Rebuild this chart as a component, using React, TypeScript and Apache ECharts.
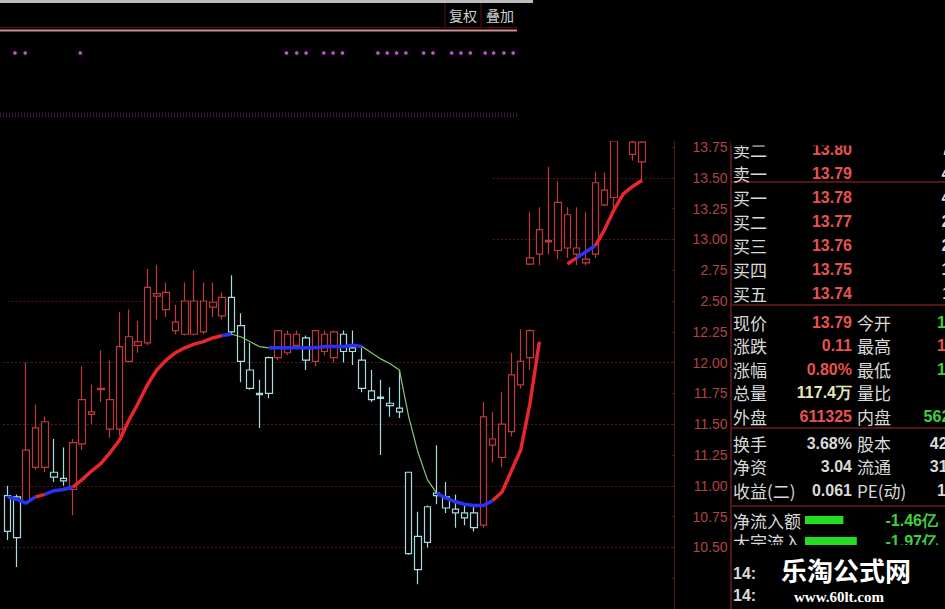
import React, { useEffect, useRef } from 'react';
import * as echarts from 'echarts';

// ---------- data ----------
const categoryCount = 72;
const xCats = Array.from({ length: categoryCount }, (_, i) => String(i));

// main K-line: [open, close, low, high], index 0..56
const mainCandles: number[][] = [
  [10.92, 10.63, 10.56, 11.0], [10.91, 10.58, 10.34, 10.93], [10.87, 11.29, 10.85, 12.0], [11.15, 11.47, 11.13, 11.66],
  [11.15, 11.52, 11.11, 11.56], [11.11, 11.07, 11.03, 11.38], [11.06, 11.04, 11.0, 11.31], [10.97, 11.35, 10.76, 11.38],
  [11.34, 11.7, 11.29, 11.97], [11.58, 11.6, 11.5, 11.82], [11.78, 11.79, 11.68, 12.1], [11.46, 11.7, 11.39, 12.02],
  [11.46, 12.13, 11.41, 12.41], [12.01, 12.21, 12.0, 12.43], [12.14, 12.17, 12.08, 12.34], [12.16, 12.61, 12.14, 12.76],
  [12.54, 12.56, 12.35, 12.79], [12.43, 12.57, 12.37, 12.65], [12.26, 12.33, 12.23, 12.47], [12.23, 12.5, 12.22, 12.65],
  [12.23, 12.5, 12.22, 12.75], [12.25, 12.5, 12.23, 12.65], [12.45, 12.49, 12.37, 12.65], [12.38, 12.53, 12.35, 12.57],
  [12.53, 12.25, 12.23, 12.71], [12.3, 12.01, 11.84, 12.4], [11.94, 11.79, 11.78, 12.16], [11.75, 11.74, 11.47, 11.86],
  [12.04, 11.75, 11.71, 12.05], [12.04, 12.26, 12.02, 12.26], [12.08, 12.23, 12.06, 12.26], [12.14, 12.23, 12.12, 12.26],
  [12.2, 12.02, 11.94, 12.22], [12.01, 12.26, 11.97, 12.26], [12.09, 12.23, 12.06, 12.26], [12.04, 12.25, 12.0, 12.26],
  [12.23, 12.09, 12.0, 12.26], [12.12, 12.09, 11.98, 12.26], [12.02, 11.79, 11.76, 12.14], [11.77, 11.7, 11.68, 11.94],
  [11.72, 11.71, 11.25, 11.86], [11.67, 11.65, 11.56, 11.8], [11.63, 11.6, 11.55, 11.94], [11.11, 10.45, 10.44, 11.11],
  [10.59, 10.32, 10.2, 10.79], [10.83, 10.54, 10.5, 10.84], [10.94, 10.92, 10.85, 11.33], [10.91, 10.82, 10.78, 11.03],
  [10.81, 10.78, 10.66, 10.93], [10.78, 10.74, 10.68, 10.85], [10.78, 10.66, 10.63, 10.83], [10.68, 11.56, 10.66, 11.68],
  [11.33, 11.38, 11.19, 11.6], [11.23, 11.5, 11.15, 11.76], [11.44, 11.9, 11.4, 12.08], [11.82, 12.01, 11.79, 12.27],
  [12.04, 12.26, 11.94, 12.27],
];

// pasted upper piece: [index, open, close, low, high]
const overlayCandles: number[][] = [
  [56, 12.8, 12.85, 12.79, 13.22], [57, 12.88, 13.08, 12.79, 13.26], [58, 12.98, 12.99, 12.88, 13.59],
  [59, 12.91, 13.3, 12.84, 13.47], [60, 12.93, 13.2, 12.85, 13.26], [61, 12.88, 12.93, 12.79, 13.26],
  [62, 12.81, 12.84, 12.79, 13.22], [63, 12.88, 13.46, 12.85, 13.55], [64, 13.28, 13.4, 13.27, 13.54],
  [65, 13.34, 13.8, 13.26, 13.9], [67, 13.69, 13.79, 13.64, 13.9], [68, 13.63, 13.79, 13.46, 13.9],
];

// trend line (index 0..57) and its colour runs (segments)
const trendMain: number[] = [
  10.91, 10.89, 10.86, 10.91, 10.93, 10.96, 10.97, 10.99, 11.05, 11.12,
  11.18, 11.27, 11.37, 11.53, 11.67, 11.82, 11.94, 12.02, 12.08, 12.12,
  12.15, 12.17, 12.2, 12.22, 12.23, 12.21, 12.17, 12.13, 12.12, 12.12,
  12.12, 12.12, 12.12, 12.12, 12.13, 12.13, 12.13, 12.14, 12.13, 12.08,
  12.03, 11.99, 11.94, 11.56, 11.27, 11.05, 10.94, 10.9, 10.87, 10.85,
  10.84, 10.84, 10.88, 10.95, 11.12, 11.29, 11.67, 12.17,
];
const trendMainRuns: [string, number][] = [
  ['b', 3], ['r', 1], ['b', 3], ['r', 16], ['b', 1], ['g', 4], ['b', 10], ['g', 8], ['b', 6], ['r', 5],
];
const trendOverlayStart = 60;
const trendOverlay: number[] = [12.8, 12.85, 12.9, 12.95, 13.08, 13.24, 13.37, 13.43, 13.48];
const trendOverlayRuns: [string, number][] = [['r', 1], ['b', 2], ['r', 5]];

// signal dots (position in bar units)
const signalDots: number[] = [0.8, 1.9, 7.8, 29.9, 31.0, 32.0, 33.9, 34.9, 35.9, 39.7, 40.7, 41.7, 42.7, 44.6, 45.6, 47.6, 48.6, 49.6, 51.2, 52.1, 53.2, 54.2];

const gridPricesFull = [10.5, 11.0, 11.5, 12.0];
const gridPricesLeft = [12.5];
const gridPricesRight = [13.0, 13.5];
const clippedAxisLabels: Record<string, string> = { '12.75': '2.75', '12.50': '2.50' };

const toolbarButtons = ['复权', '叠加'];
const orderLabels = ['卖二', '卖一', '买一', '买二', '买三', '买四', '买五'];
const orderPrices = ['13.80', '13.79', '13.78', '13.77', '13.76', '13.75', '13.74'];
const orderVolumes = ['7412', '4530', '4215', '2381', '2654', '1520', '1133'];
const quoteLabelsA = ['现价', '涨跌', '涨幅', '总量', '外盘'];
const quoteValuesA = ['13.79', '0.11', '0.80%', '117.4万', '611325'];
const quoteTonesA = ['up', 'up', 'up', 'vol', 'up'];
const quoteLabelsB = ['今开', '最高', '最低', '量比', '内盘'];
const quoteValuesB = ['13.68', '13.85', '13.52', '', '562184'];
const quoteTonesB = ['down', 'up', 'down', 'flat', 'down'];
const statLabelsA = ['换手', '净资', '收益(二)'];
const statValuesA = ['3.68%', '3.04', '0.061'];
const statLabelsB = ['股本', '流通', 'PE(动)'];
const statValuesB = ['42.7亿', '31.5亿', '12.35'];
const flowLabels = ['净流入额', '大宗流入'];
const flowValues = [-1.46, -1.97];
const tickRows = ['14:', '14:'];
const watermark = ['乐淘公式网', 'www.60lt.com'];

// ---------- styles ----------
const toneColor: Record<string, string> = { up: '#e85252', down: '#3fcf3f', vol: '#e6e6b4', flat: '#d9d9d9' };
const stateStyle: Record<string, { color: string; width: number }> = {
  r: { color: '#e8262b', width: 3.5 },
  b: { color: '#2a32f5', width: 3.5 },
  g: { color: '#86c870', width: 1.2 },
};
const CJK = '"Noto Sans CJK SC"';
const NUM = '"Liberation Sans"';

function runSeries(values: number[], start: number, runs: [string, number][]) {
  const out: any[] = [];
  let seg = 0;
  runs.forEach(([st, n]) => {
    const data: any[] = Array(start + values.length).fill('-');
    for (let j = seg; j <= seg + n; j++) data[start + j] = values[j];
    const s = stateStyle[st];
    out.push({
      type: 'line', data, symbol: 'none', silent: true, z: 5, connectNulls: false,
      lineStyle: { color: s.color, width: s.width }, itemStyle: { color: s.color },
    });
    seg += n;
  });
  return out;
}

function txt(text: string, x: number, y: number, fill: string, font: string, align = 'left', z = 10) {
  return { type: 'text', x, y, z, silent: true, style: { text, fill, font, align, verticalAlign: 'middle' } };
}
function hline(x1: number, x2: number, y: number, stroke: string, lineWidth = 1, z = 10, lineDash?: number[]) {
  return { type: 'line', z, silent: true, shape: { x1, y1: y, x2, y2: y }, style: { stroke, lineWidth, lineDash } };
}
function vline(x: number, y1: number, y2: number, stroke: string, lineWidth = 1, z = 10) {
  return { type: 'line', z, silent: true, shape: { x1: x, y1, x2: x, y2 }, style: { stroke, lineWidth } };
}
function mask(x: number, y: number, width: number, height: number) {
  return { type: 'rect', z: 50, silent: true, shape: { x, y, width, height }, style: { fill: '#000' } };
}

function buildGraphics() {
  const els: any[] = [];
  const label = '#d9d9d9';
  const sep = '#6e1c1c';
  // top toolbar
  els.push(hline(0, 533, 1.5, '#bdbdbd', 3));
  els.push(hline(0, 517, 27.5, '#4a0d0d', 1));
  els.push(hline(0, 517, 30.5, '#d38a8c', 2));
  els.push(vline(445, 3, 28, '#5a1212'));
  els.push(vline(481, 3, 28, '#5a1212'));
  toolbarButtons.forEach((b, i) => els.push(txt(b, 463 + i * 37, 15, '#d0d0d0', `14px ${CJK}`, 'center')));
  els.push(hline(0, 517, 115, '#3d1a3a', 5, 10, [1, 2]));

  // right panel frame
  els.push(vline(731, 141, 609, sep, 1.5));
  [182, 305, 428, 506].forEach((y) => els.push(hline(731, 945, y, sep, 1.5)));

  // order book
  orderLabels.forEach((l, i) => {
    const y = 149 + i * 24.1;
    els.push(txt(l, 733, y, label, `17px ${CJK}`));
    els.push(txt(orderPrices[i], 852, y, toneColor.up, `bold 16px ${NUM}`, 'right'));
    els.push(txt(orderVolumes[i], 977, y, label, `bold 16px ${NUM}`, 'right'));
  });
  // quotes
  quoteLabelsA.forEach((l, i) => {
    const y = 322 + i * 23.5;
    els.push(txt(l, 733, y, label, `17px ${CJK}`));
    els.push(txt(quoteValuesA[i], 852, y, toneColor[quoteTonesA[i]], `bold 16px ${NUM}`, 'right'));
    els.push(txt(quoteLabelsB[i], 857, y, label, `17px ${CJK}`));
    els.push(txt(quoteValuesB[i], 977, y, toneColor[quoteTonesB[i]], `bold 16px ${NUM}`, 'right'));
  });
  statLabelsA.forEach((l, i) => {
    const y = 443 + i * 23.5;
    els.push(txt(l, 733, y, label, `17px ${CJK}`));
    els.push(txt(statValuesA[i], 852, y, label, `bold 16px ${NUM}`, 'right'));
    els.push(txt(statLabelsB[i], 857, y, label, `17px ${CJK}`));
    els.push(txt(statValuesB[i], 977, y, label, `bold 16px ${NUM}`, 'right'));
  });
  // money flow
  flowLabels.forEach((l, i) => {
    const y = 520 + i * 21;
    els.push(txt(l, 733, y, label, `17px ${CJK}`));
    els.push({ type: 'rect', z: 10, silent: true, shape: { x: 805, y: y - 4, width: Math.abs(flowValues[i]) * 26.3, height: 8 }, style: { fill: '#22dd22' } });
    els.push(txt(`${flowValues[i].toFixed(2)}亿`, 938, y, toneColor.down, `bold 16px ${NUM}`, 'right'));
  });

  // masks (pasted-screenshot edges)
  els.push(mask(518, 4, 162, 137));
  els.push(mask(680, 4, 51, 134));
  els.push(mask(731, 4, 214, 141.5));
  els.push(mask(732, 545, 213, 64));

  tickRows.forEach((t, i) => els.push(txt(t, 733, 573 + i * 22, label, `bold 16px ${NUM}`, 'left', 60)));
  els.push(txt(watermark[0], 846, 569, '#ffffff', `bold 26px ${CJK}`, 'center', 60));
  els.push(txt(watermark[1], 839, 597, '#ffffff', `bold 15px "Liberation Serif"`, 'center', 60));
  return els;
}

function buildOption() {
  const gridLineStyle = { color: '#561a1a', type: [2, 2], width: 1 };
  const markData: any[] = [
    ...gridPricesFull.map((v) => ({ yAxis: v })),
    ...gridPricesLeft.map((v) => [{ coord: ['0', v] }, { coord: ['24', v] }]),
    ...gridPricesRight.map((v) => [{ coord: ['52', v] }, { coord: ['71', v] }]),
  ];
  const candleStyle = {
    color: '#000', color0: '#000', borderColor: '#c03a3c', borderColor0: '#a6dce2', borderWidth: 1.2,
  };
  return {
    backgroundColor: '#000',
    animation: false,
    grid: [
      { left: 2.83, width: 671.8, top: 116.2, height: 507.2 },
      { left: 2.83, width: 671.8, top: 43, height: 20 },
    ],
    xAxis: [
      { type: 'category', gridIndex: 0, data: xCats, show: false, boundaryGap: true },
      { type: 'value', gridIndex: 1, min: -0.5, max: 71.5, show: false },
    ],
    yAxis: [
      {
        type: 'value', gridIndex: 0, position: 'right', min: 10, max: 14, interval: 0.25,
        axisLine: { show: true, lineStyle: { color: '#5a1515' } },
        axisTick: { show: true, inside: true, length: 3, lineStyle: { color: '#5a1515' } },
        splitLine: { show: false },
        axisLabel: {
          align: 'right', margin: 53, color: '#b04444', fontSize: 14, fontFamily: 'Liberation Sans',
          formatter: (v: number) => {
            if (v < 10.49 || v > 13.76) return '';
            const s = v.toFixed(2);
            return clippedAxisLabels[s] ?? s;
          },
        },
      },
      { type: 'value', gridIndex: 1, min: -1, max: 1, show: false },
    ],
    series: [
      {
        type: 'candlestick', xAxisIndex: 0, yAxisIndex: 0, data: mainCandles, barWidth: 7, z: 3,
        itemStyle: candleStyle, silent: true,
        markLine: { silent: true, symbol: ['none', 'none'], label: { show: false }, lineStyle: gridLineStyle, data: markData, z: 1 },
      },
      {
        type: 'candlestick', xAxisIndex: 0, yAxisIndex: 0, data: overlayCandles, barWidth: 7, z: 3,
        encode: { x: 0, y: [1, 2, 3, 4] }, itemStyle: candleStyle, silent: true,
      },
      ...runSeries(trendMain, 0, trendMainRuns),
      ...runSeries(trendOverlay, trendOverlayStart, trendOverlayRuns),
      {
        type: 'scatter', xAxisIndex: 1, yAxisIndex: 1, data: signalDots.map((v) => [v, 0]), symbolSize: 3.5, silent: true,
        itemStyle: { color: '#d27ee0', shadowBlur: 5, shadowColor: 'rgba(190,60,200,0.8)' },
      },
    ],
    graphic: { elements: buildGraphics() },
  };
}

export default function App() {
  const ref = useRef<HTMLDivElement>(null);
  useEffect(() => {
    if (!ref.current) return;
    const chart = echarts.init(ref.current, undefined, { renderer: 'svg' });
    chart.setOption(buildOption() as any);
    return () => chart.dispose();
  }, []);
  return (
    <div
      ref={ref}
      style={{ position: 'fixed', left: 0, top: 0, width: 945, height: 609, background: '#000', overflow: 'hidden' }}
    />
  );
}
